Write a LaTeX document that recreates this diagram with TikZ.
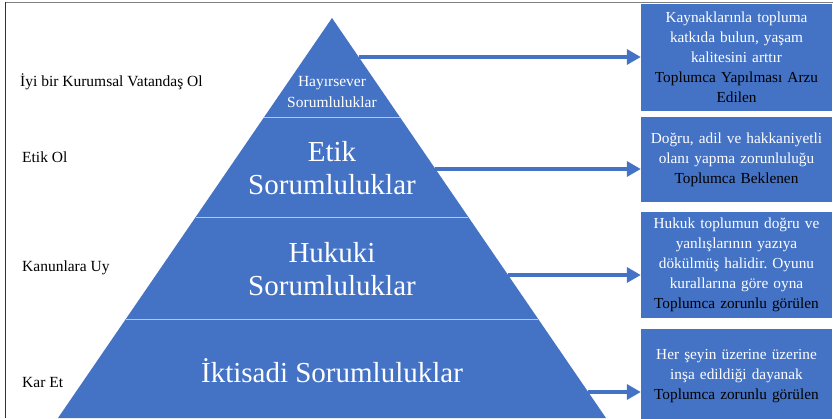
\documentclass[tikz,border=0pt]{standalone}
\usepackage{fontspec}
\setmainfont{Liberation Serif}
\usetikzlibrary{arrows.meta,calc,positioning}
\definecolor{pyrblue}{HTML}{4472C4}
\frenchspacing

\begin{document}
\begin{tikzpicture}[
		x=1pt,y=-1pt,
		layer/.style={text=white,align=center,inner sep=0pt},
		side/.style={anchor=base west,inner sep=0pt,font=\fontsize{15.5}{20}\selectfont},
		infobox/.style={fill=pyrblue,text=white,align=center,inner sep=0pt,
			minimum width=191pt,text width=188pt,font=\fontsize{15.3}{20}\selectfont},
		oneway/.style={-{Triangle[length=14pt,width=15pt]},line width=4pt,draw=pyrblue},
		divider/.style={white!60!pyrblue,line width=1pt}]
		\clip (0,0) rectangle (833,418);
		
		% Frame
		\draw[gray,line width=1.5pt] (5,2.5) -- (833,2.5);
		\draw[black!80,line width=1.5pt] (5.5,2) -- (5.5,418);
		
		% Pyramid
		\coordinate (apex) at (332,18);
		\coordinate (bl) at (58,418);
		\coordinate (br) at (606,418);
		\fill[pyrblue] (apex) -- (bl) -- (br) -- cycle;
		\foreach \t in {0.2475,0.4975,0.7525}
			\draw[divider] ($(apex)!\t!(bl)$) -- ($(apex)!\t!(br)$);
		
		\node[layer,font=\fontsize{15.5}{21}\selectfont] (hayir) at (332,92) {Hayırsever\\Sorumluluklar};
		\node[layer,font=\fontsize{29}{33}\selectfont] (etik) at (332,168) {Etik\\Sorumluluklar};
		\node[layer,font=\fontsize{29}{33}\selectfont] (hukuki) at (332,269) {Hukuki\\Sorumluluklar};
		\node[layer,font=\fontsize{29}{33}\selectfont] (iktisadi) at (332,371) {İktisadi Sorumluluklar};
		
		% Left labels
		\node[side] (iyi) at (20,86) {İyi bir Kurumsal Vatandaş Ol};
		\node[side] (etikol) at (22,162) {Etik Ol};
		\node[side] (kanun) at (22,271) {Kanunlara Uy};
		\node[side] (karet) at (22,387) {Kar Et};
		
		% Right boxes
		\node[infobox,minimum height=107pt] (box1) at (736.5,57.5)
			{Kaynaklarınla topluma\\katkıda bulun, yaşam\\kalitesini arttır\\
			\textcolor{black}{Toplumca Yapılması Arzu}\\\textcolor{black}{Edilen}};
		\node[infobox,minimum height=85pt] (box2) at (736.5,159.5)
			{Doğru, adil ve hakkaniyetli\\olanı yapma zorunluluğu\\
			\textcolor{black}{Toplumca Beklenen}};
		\node[infobox,minimum height=106pt] (box3) at (736.5,265)
			{Hukuk toplumun doğru ve\\yanlışlarının yazıya\\dökülmüş halidir. Oyunu\\
			kurallarına göre oyna\\\textcolor{black}{Toplumca zorunlu görülen}};
		\node[infobox,minimum height=94pt] (box4) at (736.5,376)
			{Her şeyin üzerine üzerine\\inşa edildiği dayanak\\
			\textcolor{black}{Toplumca zorunlu görülen}};
		
		% Arrows
		\coordinate (s1) at ($(apex)!0.0975!(br)$);
		\coordinate (s2) at ($(apex)!0.3775!(br)$);
		\coordinate (s3) at ($(apex)!0.6425!(br)$);
		\coordinate (s4) at ($(apex)!0.935!(br)$);
		\draw[oneway] (s1) -- (s1 -| box1.west);
		\draw[oneway] (s2) -- (s2 -| box2.west);
		\draw[oneway] (s3) -- (s3 -| box3.west);
		\draw[oneway] (s4) -- (s4 -| box4.west);
\end{tikzpicture}
\end{document}
